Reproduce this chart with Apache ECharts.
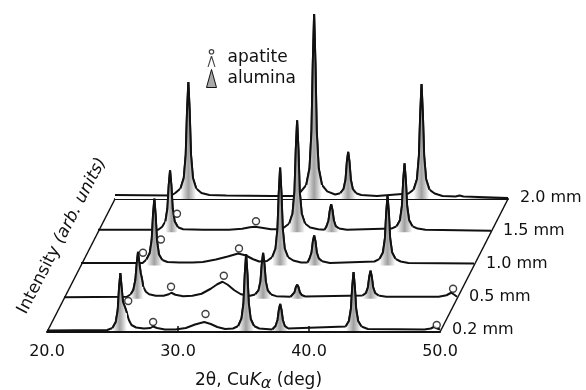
<!DOCTYPE html>
<html><head><meta charset="utf-8">
<script src="https://cdn.jsdelivr.net/npm/echarts@6/dist/echarts.min.js"></script>
<style>html,body{margin:0;padding:0;background:#fff}#c{width:586px;height:390px}</style>
</head><body><div id="c"></div>
<script>
// ---- data (2θ in deg, intensity in arbitrary units) ----
const traceNames = ['0.2 mm', '0.5 mm', '1.0 mm', '1.5 mm', '2.0 mm'];
const xTicks = [20, 30, 40, 50];
const aluminaPeaks = [25.6, 35.2, 37.8, 43.4];

const trace02 = [[20.0,1.5],[24.6,2],[25.0,4],[25.25,10],[25.4,22],[25.5,44],[25.6,59],[25.7,44],[25.8,30],[25.95,25],[26.1,19],[26.25,12],[26.45,7],[26.8,4.5],[27.4,3.5],[27.9,4],[28.1,5.5],[28.4,4],[29.0,2.5],[29.8,2.5],[30.6,4],[31.3,7.5],[32.0,10],[32.5,8],[33.0,5],[33.6,3],[34.2,3.5],[34.6,6],[34.85,13.7],[35.0,29],[35.1,58],[35.2,78],[35.3,58],[35.4,29],[35.55,13],[35.8,6],[36.2,3.5],[37.2,2.5],[37.45,6],[37.6,12],[37.7,22],[37.8,28],[37.9,22],[38.0,12],[38.15,6],[38.4,3.5],[42.8,5.5],[43.05,11],[43.2,23],[43.3,45],[43.4,60],[43.5,45],[43.6,23],[43.75,11],[44.0,5.5],[44.5,3],[48.8,2.5],[49.3,3.5],[49.6,5.5],[49.8,3.5],[50.0,2.5]];
const trace05 = [[20.0,1.5],[24.8,2],[25.1,4.5],[25.3,9],[25.45,19],[25.55,35],[25.65,47],[25.75,36],[25.85,26],[25.95,20],[26.05,12],[26.25,7],[26.5,4.5],[27.0,3],[27.6,3],[28.0,4.5],[28.2,6],[28.5,4],[29.1,2.5],[29.8,3],[30.5,5],[31.2,10],[31.7,14.5],[32.1,17],[32.5,14],[33.0,8.5],[33.5,4.5],[34.2,3],[34.6,4.3],[34.85,8.4],[35.0,17.6],[35.1,34.6],[35.2,46],[35.3,34.6],[35.4,17.6],[35.55,8.4],[35.8,4.3],[36.2,2.6],[37.3,2],[37.45,3.6],[37.6,6.4],[37.7,11.6],[37.8,14],[37.9,11.6],[38.0,6.4],[38.15,3.6],[38.4,2.3],[42.8,3.2],[43.05,5.7],[43.2,11.3],[43.3,21.7],[43.4,28],[43.5,21.7],[43.6,11.3],[43.75,5.7],[44.0,3.2],[44.6,2],[48.6,2],[49.2,3.5],[49.55,6],[49.8,4],[50.0,2]];
const trace10 = [[20.0,2.5],[24.7,2.5],[25.0,6],[25.25,12.5],[25.4,26],[25.5,51],[25.6,67],[25.7,50],[25.8,25],[25.95,11],[26.2,5.5],[26.6,3.5],[27.5,3],[28.5,3],[29.3,3.5],[30.3,6],[31.2,9],[32.0,12],[32.6,10],[33.1,6.5],[33.6,4],[34.2,4.5],[34.6,8.4],[34.85,17],[35.0,37],[35.1,73],[35.2,98],[35.3,73],[35.4,37],[35.55,17],[35.8,8.4],[36.2,5],[36.8,3],[37.3,3],[37.45,7],[37.6,13],[37.7,24],[37.8,30],[37.9,24],[38.0,13],[38.15,7],[38.4,4.3],[39.0,2.5],[42.4,4],[42.8,6.7],[43.05,13],[43.2,27],[43.3,53],[43.4,70],[43.5,53],[43.6,27],[43.75,13],[44.0,6.7],[44.4,4],[45.0,2.5],[50.0,2]];
const trace15 = [[20.0,2.5],[24.6,2.5],[24.9,5.5],[25.15,11],[25.3,24],[25.4,47],[25.5,62],[25.6,47],[25.7,24],[25.85,11],[26.1,5],[26.5,3],[28.0,2.5],[30.0,2.5],[31.0,3.5],[31.6,5],[32.0,5.5],[32.5,4.5],[33.2,3],[33.8,3],[34.2,4.8],[34.6,8.7],[34.85,18.8],[35.0,41],[35.1,83],[35.2,112],[35.3,83],[35.4,41],[35.55,18.8],[35.8,8.7],[36.2,4.8],[36.8,3],[37.3,2.5],[37.45,6],[37.6,12],[37.7,22],[37.8,28],[37.9,22],[38.0,12],[38.15,6],[38.4,3.7],[39.0,2.5],[42.4,3.7],[42.8,6],[43.05,12],[43.2,26],[43.3,52],[43.4,69],[43.5,52],[43.6,26],[43.75,12],[44.0,6],[44.4,3.7],[45.0,2.5],[50.0,1.5]];
const trace20 = [[20.0,4],[24.3,3.5],[24.6,6],[25.0,10.5],[25.25,21],[25.4,44.5],[25.5,88],[25.6,117],[25.7,88],[25.8,44.5],[25.95,21],[26.2,10.5],[26.6,6],[27.2,4],[28.5,3.5],[32.0,3],[33.8,3],[34.2,7.6],[34.6,14],[34.85,30.7],[35.0,68],[35.1,136],[35.2,185],[35.3,136],[35.4,68],[35.55,30.7],[35.8,14],[36.2,7.6],[36.8,4.5],[37.2,5.8],[37.45,10],[37.6,19.5],[37.7,37],[37.8,47],[37.9,37],[38.0,19.5],[38.15,10],[38.4,5.8],[38.8,4],[40.0,3],[42.4,5.5],[42.8,9.4],[43.05,19.7],[43.2,43],[43.3,85],[43.4,115],[43.5,85],[43.6,43],[43.75,19.7],[44.0,9.4],[44.4,5.5],[45.0,3],[46.0,2.5],[46.3,3.5],[46.6,2.5],[50.0,1]];

const apatite02 = [[26.2,31],[28.1,10],[32.1,18],[49.75,7]];
const apatite05 = [[26.03,46],[28.17,12],[32.2,23],[49.7,10]];
const apatite10 = [[26.1,26],[32.06,17]];
const apatite15 = [[26.03,18.5],[32.06,11]];
const apatite20 = [];

const traces = [trace02, trace05, trace10, trace15, trace20];
const apatites = [apatite02, apatite05, apatite10, apatite15, apatite20];

// ---- layout ----
const FONT = 'DejaVu Sans';
const baseY = 332, stepY = 33.25, baseX = 47, stepX = 17, W = 393, H = 190;
const INK = '#111';

const chart = echarts.init(document.getElementById('c'), null, {renderer: 'canvas'});

const grid = [], xAxis = [], yAxis = [], series = [];
traces.forEach((t, i) => {
  grid.push({left: baseX + stepX * i, top: baseY - stepY * i - H, width: W, height: H,
    containLabel: false, outerBoundsMode: 'none'});
  const bottom = i === 0;
  xAxis.push({
    type: 'value', gridIndex: i, min: xTicks[0], max: xTicks[xTicks.length - 1], interval: 10,
    z: bottom ? 30 : 1,
    axisLine: {show: bottom || i === traces.length - 1, lineStyle: {color: INK, width: 2}},
    axisTick: {show: bottom, inside: true, length: 6, lineStyle: {color: INK, width: 1.5}, customValues: [30, 40]},
    axisLabel: {show: bottom, margin: 12, color: INK, fontFamily: FONT, fontSize: 16,
      formatter: v => v.toFixed(1)},
    splitLine: {show: false},
    name: bottom ? '2θ, Cu{k|K}{a|α} (deg)' : '',
    nameLocation: 'middle', nameGap: 37,
    nameTextStyle: {color: INK, fontFamily: FONT, fontSize: 17, padding: [0, 0, 0, 30],
      rich: {k: {fontStyle: 'italic', fontFamily: FONT, fontSize: 17, color: INK},
             a: {fontStyle: 'italic', fontFamily: FONT, fontSize: 16, color: INK, padding: [7, 0, 0, 0]}}}
  });
  yAxis.push({type: 'value', gridIndex: i, min: 0, max: H, show: false});
  const z0 = 2 + (traces.length - 1 - i) * 3;
  series.push({
    type: 'line', name: traceNames[i], xAxisIndex: i, yAxisIndex: i, data: t,
    symbol: 'none', z: z0, silent: true,
    lineStyle: {color: INK, width: 2},
    areaStyle: {color: '#fff', opacity: 1},
    endLabel: {show: true, formatter: traceNames[i], distance: 12, color: INK, fontFamily: FONT, fontSize: 16}
  });
  aluminaPeaks.forEach(p => {
    series.push({
      type: 'line', name: 'alumina', xAxisIndex: i, yAxisIndex: i,
      data: t.filter(d => Math.abs(d[0] - p) <= 0.61),
      symbol: 'none', z: z0 + 1, silent: true,
      lineStyle: {color: INK, width: 2},
      areaStyle: {opacity: 1, color: new echarts.graphic.LinearGradient(0, 0, 1, 0, [
        {offset: 0, color: '#ffffff'}, {offset: 0.3, color: '#c4c4c4'},
        {offset: 0.5, color: '#a0a0a0'}, {offset: 0.7, color: '#c4c4c4'}, {offset: 1, color: '#ffffff'}])}
    });
  });
  series.push({
    type: 'scatter', name: 'apatite', xAxisIndex: i, yAxisIndex: i, data: apatites[i],
    symbol: 'circle', symbolSize: 7, z: z0 + 2, silent: true,
    itemStyle: {color: '#fff', borderColor: INK, borderWidth: 1.4}
  });
});

const apatiteIcon = 'path://M2.2,2.8A2.8,2.8 0 1 1 7.8,2.8A2.8,2.8 0 1 1 2.2,2.8Z M3.4,2.8A1.6,1.6 0 1 0 6.6,2.8A1.6,1.6 0 1 0 3.4,2.8Z M1,18L4.4,7L5.6,7L9,18L7.9,18L5,8.9L2.1,18Z';
const aluminaIcon = 'path://M0,18L5,0L10,18Z';

chart.setOption({
  animation: false,
  backgroundColor: '#fff',
  grid, xAxis, yAxis, series,
  legend: {
    orient: 'vertical', left: 201, top: 44, itemWidth: 10, itemHeight: 18, itemGap: 2,
    selectedMode: false,
    textStyle: {color: INK, fontFamily: FONT, fontSize: 17, padding: [0, 0, 0, 6]},
    data: [
      {name: 'apatite', icon: apatiteIcon, itemStyle: {color: INK, borderWidth: 0}},
      {name: 'alumina', icon: aluminaIcon, itemStyle: {color: '#a8a8a8', borderColor: INK, borderWidth: 1}}
    ]
  }
});

// frame diagonals from the axis scales
const last = traces.length - 1;
const pL0 = chart.convertToPixel({gridIndex: 0}, [xTicks[0], 0]);
const pL1 = chart.convertToPixel({gridIndex: last}, [xTicks[0], 0]);
const pR0 = chart.convertToPixel({gridIndex: 0}, [xTicks[xTicks.length - 1], 0]);
const pR1 = chart.convertToPixel({gridIndex: last}, [xTicks[xTicks.length - 1], 0]);
chart.setOption({
  graphic: [
    {type: 'polyline', z: 40, shape: {points: [pL0, pL1]}, style: {stroke: INK, lineWidth: 1.5, fill: null}},
    {type: 'polyline', z: 40, shape: {points: [pR0, pR1]}, style: {stroke: INK, lineWidth: 1.5, fill: null}},
    {type: 'text', x: 62, y: 236, rotation: 62.5 * Math.PI / 180, z: 40,
      style: {text: 'Intensity {i|(arb. units)}', fill: INK, fontFamily: FONT, fontSize: 17,
        align: 'center', verticalAlign: 'middle',
        rich: {i: {fontStyle: 'italic', fontFamily: FONT, fontSize: 17, fill: INK}}}}
  ]
});
</script></body></html>
